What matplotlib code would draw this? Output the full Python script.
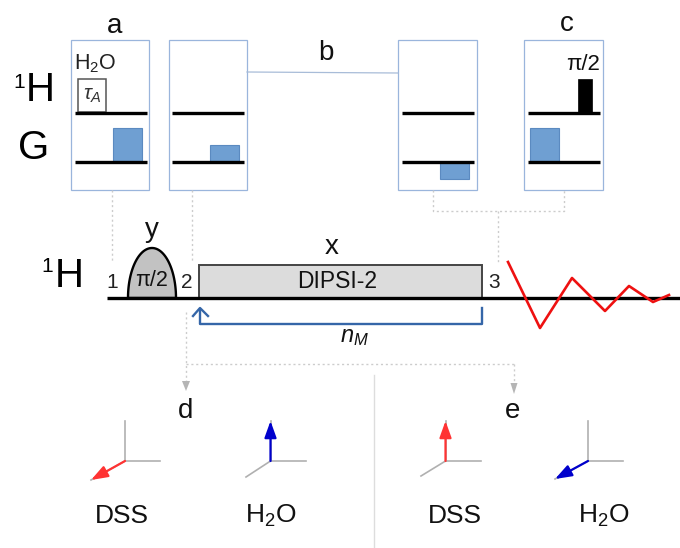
import numpy as np
import matplotlib
matplotlib.use('Agg')
import matplotlib.pyplot as plt
from matplotlib.patches import Rectangle, Polygon

plt.rcParams['font.family'] = ['Liberation Sans', 'DejaVu Sans']
plt.rcParams['mathtext.fontset'] = 'custom'
plt.rcParams['mathtext.rm'] = 'Liberation Sans'
plt.rcParams['mathtext.it'] = 'Liberation Sans:italic'

# sequence blocks, in pixels of the picture
panel_left = [71, 168.5, 398, 524]
panel_right = [149, 246.5, 477, 603]
grad_left = [113, 210, 440, 530]
grad_top = [128, 145, 179, 128]
fid_x = [508, 540, 572, 605, 629, 653, 669]
fid_y = [262, 328, 278, 311, 286, 302, 295]

# vector diagrams: origin, tilted axis end, coloured arrow end, colour
vec_x = [125, 270.5, 445.5, 588]
vec_tilt = [(91, 480), (246, 477), (421, 476), (555, 479)]
vec_arrow = [(91, 480), (270.5, 421), (445.5, 421), (555, 479)]
vec_color = ['#ff3333', '#0000cc', '#ff3333', '#0000cc']
vec_label = ['DSS', 'H$_2$O', 'DSS', 'H$_2$O']
vec_label_x = [122, 271, 455, 604]

fig = plt.figure(figsize=(6.8, 5.48), dpi=100)
ax = fig.add_axes([0, 0, 1, 1])
ax.set_xlim(0, 680)
ax.set_ylim(548, 0)
ax.axis('off')


def txt(x, y, s, size, **kw):
    ax.text(x, y, s, fontsize=size, ha='center', va='center', **kw)


def dotted(xs, ys):
    ax.plot(xs, ys, color='#cccccc', lw=1, ls=(0, (1.5, 2)), zorder=1)


# top panels
for i in range(4):
    ax.add_patch(Rectangle((panel_left[i], 40), panel_right[i] - panel_left[i], 150,
                           fc='white', ec='#9ab5dc', lw=0.9, zorder=1))
    x0 = panel_left[i] + 3.5
    ax.plot([x0, x0 + 72], [112.5, 112.5], color='black', lw=2.4, solid_capstyle='butt', zorder=3)
    ax.plot([x0, x0 + 72], [162, 162], color='black', lw=2.4, solid_capstyle='butt', zorder=3)
    top = grad_top[i]
    ax.add_patch(Rectangle((grad_left[i], min(top, 162)), 29, abs(162 - top),
                           fc='#6f9fd2', ec='#5b8ac0', lw=0.8, zorder=2))

ax.plot([247, 398], [72, 73], color='#a8bcd8', lw=0.9)

ax.add_patch(Rectangle((78, 79), 28, 33, fc='white', ec='#555555', lw=1.1, zorder=2))
ax.add_patch(Rectangle((578, 79), 14, 33, fc='black', ec='black', lw=0.5, zorder=2))

txt(115, 26, 'a', 20, color='#111111')
txt(326, 53, 'b', 20, color='#111111')
txt(567, 24, 'c', 20, color='#111111')
txt(95, 64, 'H$_2$O', 15.5, color='#222222')
txt(92, 96, r'$\tau_A$', 15, color='#333333')
txt(583, 64, 'π/2', 16, color='#111111')

txt(40, 90, 'H', 29, color='black')
txt(19, 82, '1', 15, color='black')
txt(34, 148, 'G', 29, color='black')

# main sequence
dotted([112, 112, ], [190, 262])
dotted([191.5, 191.5], [190, 262])
dotted([433, 433, 564, 564], [190, 211, 211, 190])
dotted([498, 498], [211, 262])
dotted([186, 186], [312, 381])
dotted([186, 514], [364, 364])
dotted([514, 514], [364, 386])
ax.add_patch(Polygon([(182, 381), (190, 381), (186, 391)], fc='#b5b5b5', ec='none'))
ax.add_patch(Polygon([(510.5, 383), (517.5, 383), (514, 394)], fc='#b5b5b5', ec='none'))

t = np.linspace(0, np.pi, 80)
ax.fill(152 + 24 * np.cos(t), 298 - 50 * np.sin(t), fc='#c2c2c2', ec='black', lw=1.7, zorder=3)
ax.add_patch(Rectangle((199, 265), 283, 32.5, fc='#dcdcdc', ec='#444444', lw=1.4, zorder=3))
ax.plot([107, 680], [298, 298], color='black', lw=2.4, solid_capstyle='butt', zorder=4)
ax.plot(fid_x, fid_y, color='#ee1111', lw=1.9, zorder=5)

ax.plot([482, 482, 200, 200], [308, 324, 324, 310], color='#3566a8', lw=1.7, zorder=3)
ax.plot([193, 200, 208], [316, 308, 316], color='#3566a8', lw=1.7, zorder=3)

txt(152, 230, 'y', 20, color='#111111')
txt(332, 247, 'x', 20, color='#111111')
txt(152, 280, 'π/2', 15.5, color='#111111', zorder=6)
txt(337, 282, 'DIPSI-2', 16.5, color='#111111', zorder=6)
txt(112, 283, '1', 15, color='#222222')
txt(187, 283, '2', 15, color='#222222')
txt(494, 282, '3', 15, color='#222222')
txt(69, 276, 'H', 29, color='black')
txt(47, 267, '1', 15, color='black')
txt(354, 337, '$n_M$', 17, color='#111111')

# bottom half
ax.plot([374, 374], [375, 548], color='#dddddd', lw=1)
txt(186, 411, 'd', 20, color='#111111')
txt(513, 411, 'e', 20, color='#111111')

for i in range(4):
    x0 = vec_x[i]
    ax.plot([x0, x0 + 35], [461, 461], color='#b0b0b0', lw=1.2, zorder=1)
    ax.plot([x0, x0], [461, 421], color='#b0b0b0', lw=1.2, zorder=1)
    ax.plot([x0, vec_tilt[i][0]], [461, vec_tilt[i][1]], color='#b0b0b0', lw=1.2, zorder=1)
    ax.annotate('', xy=vec_arrow[i], xytext=(x0, 461),
                arrowprops=dict(arrowstyle='-|>,head_width=0.36,head_length=1.0', color=vec_color[i],
                                lw=1.6, shrinkA=0, shrinkB=0), zorder=2)
    txt(vec_label_x[i], 516, vec_label[i], 19, color='#111111')

fig.savefig('out.png', dpi=100)
